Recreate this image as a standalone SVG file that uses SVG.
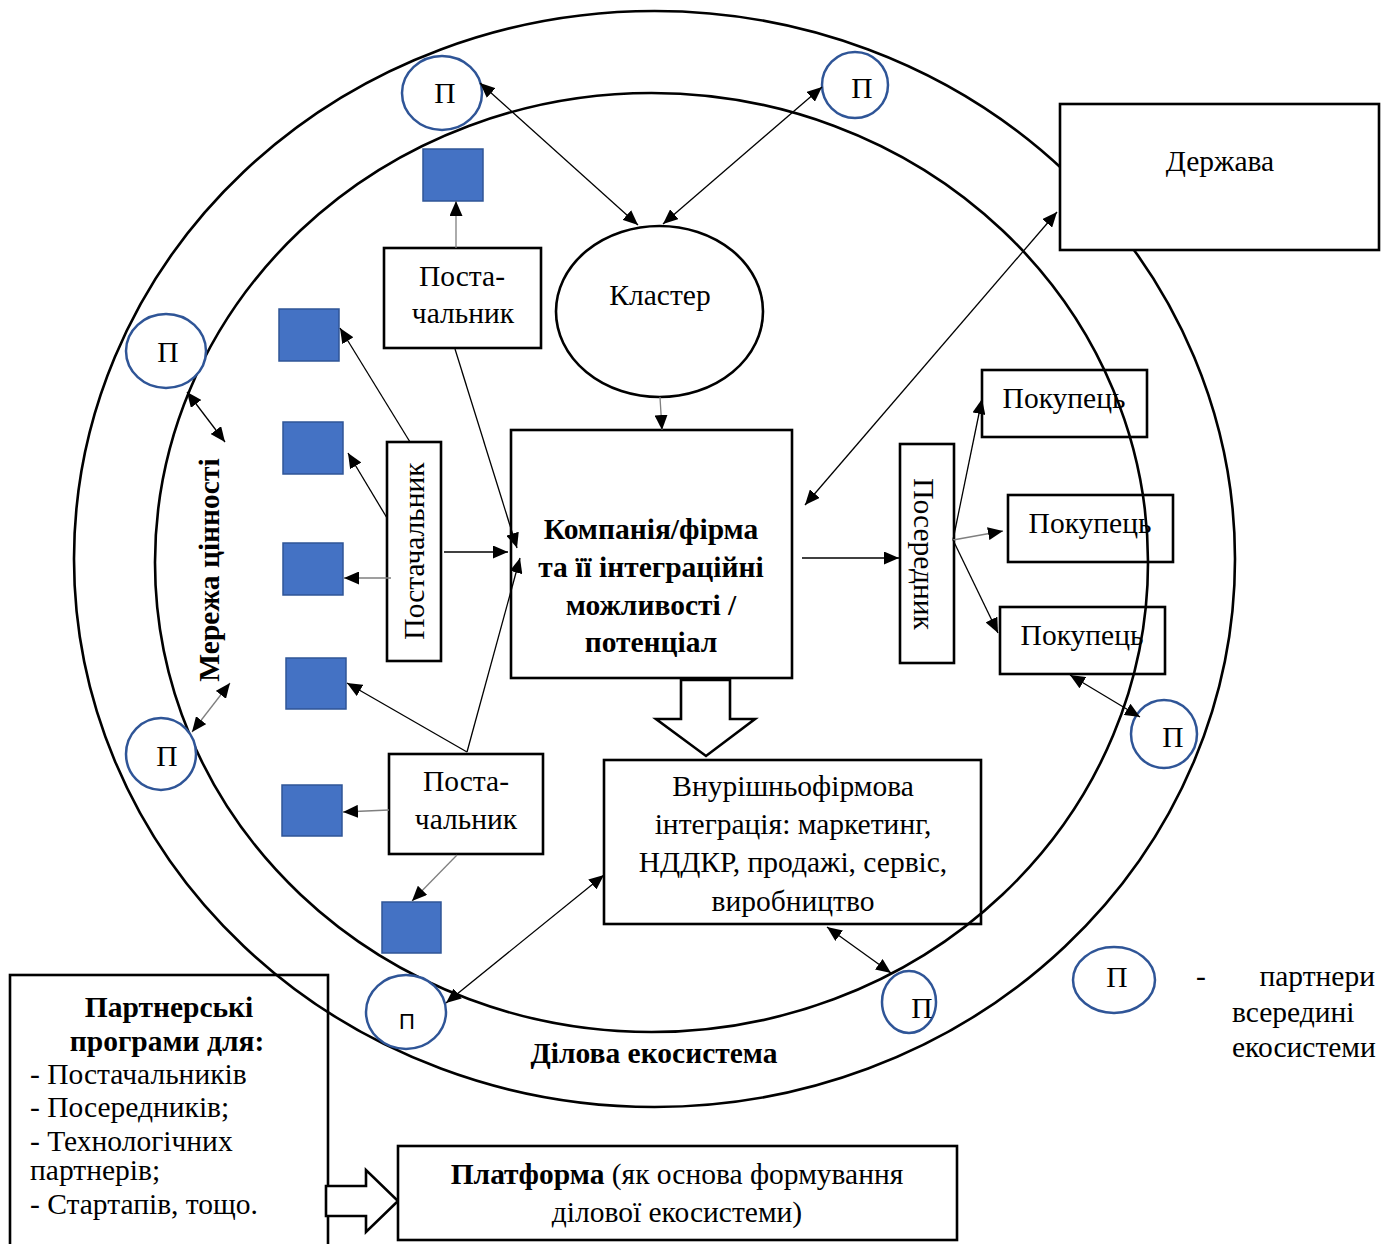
<svg xmlns="http://www.w3.org/2000/svg" width="1395" height="1244" viewBox="0 0 1395 1244">
<defs>
<style>
.ring{fill:none;stroke:#000;stroke-width:2.6}
.box{fill:#fff;stroke:#000;stroke-width:2.6}
.boxn{fill:none;stroke:#000;stroke-width:2.6}
.p{fill:#fff;stroke:#2F5597;stroke-width:2.5}
.sq{fill:#4472C4;stroke:#2F5597;stroke-width:1.5}
.ln{fill:none;stroke:#000;stroke-width:1.3}
.lg{fill:none;stroke:#7f7f7f;stroke-width:1.3}
.e{marker-end:url(#ah)}
.d{marker-start:url(#ah);marker-end:url(#ah)}
.t{font-family:"Liberation Serif","Times New Roman",serif;font-size:29.5px;fill:#000}
.c{text-anchor:middle}
.b{font-weight:bold}
.s{font-family:"Liberation Sans",Arial,sans-serif;font-size:22px;fill:#000}
</style>
<marker id="ah" markerUnits="userSpaceOnUse" markerWidth="15" markerHeight="13" refX="15" refY="6.5" orient="auto-start-reverse">
<path d="M0,0 L15,6.5 L0,13 z" fill="#000"/>
</marker>
</defs>

<g id="rings">
<ellipse class="ring" cx="654.5" cy="559" rx="580.5" ry="548"/>
<ellipse class="ring" cx="651.5" cy="562.5" rx="496.5" ry="469.5"/>
<text class="t b c" x="654" y="1063">Ділова екосистема</text>
<text class="t b c" transform="translate(219,570) rotate(-90)">Мережа цінності</text>
</g>

<g id="squares">
<rect class="sq" x="423" y="149" width="60" height="52"/>
<rect class="sq" x="279" y="309" width="60" height="52"/>
<rect class="sq" x="283" y="422" width="60" height="52"/>
<rect class="sq" x="283" y="543" width="60" height="52"/>
<rect class="sq" x="286" y="658" width="60" height="51"/>
<rect class="sq" x="282" y="785" width="60" height="51"/>
<rect class="sq" x="382" y="902" width="59" height="51"/>
</g>

<g id="p-top-left"><ellipse class="p" cx="442" cy="93" rx="40" ry="37"/><text class="t c" x="445" y="103">П</text></g>
<g id="p-top-right"><ellipse class="p" cx="855" cy="85" rx="33" ry="33"/><text class="t c" x="862" y="98">П</text></g>
<g id="p-left-upper"><ellipse class="p" cx="166" cy="351" rx="40" ry="37"/><text class="t c" x="168" y="362">П</text></g>
<g id="p-left-lower"><ellipse class="p" cx="161" cy="754" rx="35" ry="36"/><text class="t c" x="167" y="766">П</text></g>
<g id="p-right"><ellipse class="p" cx="1164" cy="734" rx="33" ry="34"/><text class="t c" x="1173" y="747">П</text></g>
<g id="p-bottom-left"><ellipse class="p" cx="406" cy="1012" rx="40" ry="37"/><text class="s c" x="407" y="1029">П</text></g>
<g id="p-bottom-right"><ellipse class="p" cx="909" cy="1002" rx="27" ry="31"/><text class="t c" x="922" y="1018">П</text></g>

<g id="supplier-top"><rect class="box" x="384" y="248" width="157" height="100"/><text class="t c" x="462" y="286">Поста-</text><text class="t c" x="463" y="323">чальник</text></g>
<g id="supplier-vertical"><rect class="box" x="387" y="442" width="54" height="219"/><text class="t c" transform="translate(424,551) rotate(-90)">Постачальник</text></g>
<g id="supplier-bottom"><rect class="box" x="389" y="754" width="154" height="100"/><text class="t c" x="466" y="791">Поста-</text><text class="t c" x="466" y="829">чальник</text></g>

<g id="cluster"><ellipse class="box" cx="659.5" cy="311.5" rx="103.5" ry="85.5"/><text class="t c" x="660" y="305">Кластер</text></g>

<g id="company"><rect class="box" x="511" y="430" width="281" height="248"/>
<text class="t b c" x="651" y="539">Компанія/фірма</text>
<text class="t b c" x="651" y="577">та її інтеграційні</text>
<text class="t b c" x="651" y="615">можливості /</text>
<text class="t b c" x="651" y="652">потенціал</text></g>

<g id="big-arrow"><polygon class="box" points="681,680 730,680 730,719 755,719 706,756 656,719 681,719"/></g>

<g id="internal"><rect class="boxn" x="604" y="760" width="377" height="164"/>
<text class="t c" x="793" y="796">Внурішньофірмова</text>
<text class="t c" x="793" y="834">інтеграція: маркетинг,</text>
<text class="t c" x="793" y="872">НДДКР, продажі, сервіс,</text>
<text class="t c" x="793" y="911">виробництво</text></g>

<g id="state"><rect class="box" x="1060" y="104" width="319" height="146"/><text class="t c" x="1220" y="171">Держава</text></g>

<g id="intermediary"><rect class="box" x="900" y="444" width="54" height="219"/><text class="t c" transform="translate(914,554) rotate(90)">Посередник</text></g>

<g id="buyer-1"><rect class="boxn" x="982" y="370" width="165" height="67"/><text class="t c" x="1064" y="408">Покупець</text></g>
<g id="buyer-2"><rect class="boxn" x="1008" y="495" width="165" height="67"/><text class="t c" x="1090" y="533">Покупець</text></g>
<g id="buyer-3"><rect class="boxn" x="1000" y="607" width="165" height="67"/><text class="t c" x="1082" y="645">Покупець</text></g>

<g id="legend"><ellipse class="p" cx="1114" cy="980" rx="41" ry="33"/><text class="t c" x="1117" y="987">П</text>
<text class="t" x="1196" y="986">-</text>
<text class="t" x="1375" y="986" text-anchor="end">партнери</text>
<text class="t" x="1232" y="1022">всередині</text>
<text class="t" x="1232" y="1057">екосистеми</text></g>

<g id="partner-programs"><rect class="boxn" x="10" y="975" width="318" height="290"/>
<text class="t b c" x="169" y="1017">Партнерські</text>
<text class="t b c" x="167" y="1051">програми для:</text>
<text class="t" x="30" y="1084">-  Постачальників</text>
<text class="t" x="30" y="1117">-  Посередників;</text>
<text class="t" x="30" y="1151">-  Технологічних</text>
<text class="t" x="30" y="1180">партнерів;</text>
<text class="t" x="30" y="1214">-  Стартапів, тощо.</text></g>

<g id="platform-arrow"><polygon class="box" points="326,1186 366,1186 366,1170 398,1201 366,1232 366,1216 326,1216"/></g>

<g id="platform"><rect class="box" x="398" y="1146" width="559" height="94"/>
<text class="t c" x="677" y="1184"><tspan class="b">Платформа</tspan> (як основа формування</text>
<text class="t c" x="677" y="1222">ділової екосистеми)</text></g>

<g id="connectors">
<line class="ln d" x1="480" y1="83" x2="638" y2="225"/>
<line class="ln d" x1="822" y1="87" x2="663" y2="224"/>
<line class="lg e" x1="660" y1="397" x2="662" y2="430"/>
<line class="lg e" x1="456" y1="248" x2="456" y2="201"/>
<line class="ln e" x1="455" y1="349" x2="517" y2="548"/>
<line class="ln e" x1="444" y1="552" x2="508" y2="552"/>
<line class="ln e" x1="467" y1="752" x2="520" y2="558"/>
<line class="ln e" x1="410" y1="442" x2="340" y2="328"/>
<line class="ln e" x1="387" y1="518" x2="348" y2="453"/>
<line class="lg e" x1="391" y1="578" x2="344" y2="578"/>
<line class="ln e" x1="467" y1="752" x2="347" y2="683"/>
<line class="lg e" x1="389" y1="810" x2="343" y2="812"/>
<line class="lg e" x1="457" y1="855" x2="412" y2="901"/>
<line class="ln d" x1="1057" y1="212" x2="805" y2="505"/>
<line class="ln e" x1="802" y1="558" x2="899" y2="558"/>
<line class="ln e" x1="953" y1="540" x2="982" y2="399"/>
<line class="lg e" x1="953" y1="540" x2="1003" y2="531"/>
<line class="ln e" x1="953" y1="540" x2="998" y2="633"/>
<line class="ln d" x1="1070" y1="675" x2="1140" y2="717"/>
<line class="ln d" x1="446" y1="1003" x2="604" y2="875"/>
<line class="ln d" x1="827" y1="927" x2="891" y2="973"/>
<line class="ln d" x1="187" y1="392" x2="225" y2="442"/>
<line class="lg d" x1="192" y1="732" x2="230" y2="683"/>
</g>
</svg>
